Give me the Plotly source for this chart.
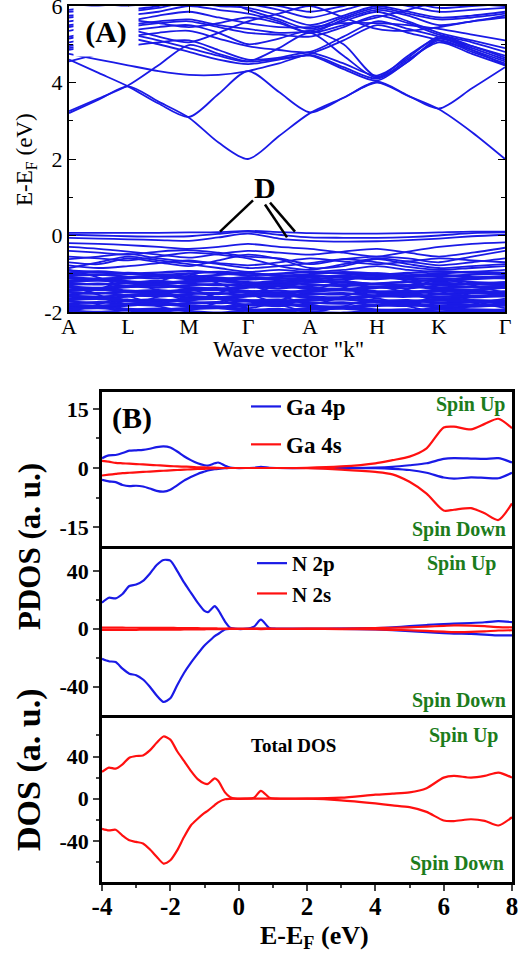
import plotly.graph_objects as go

W, H = 518, 960
FONT = "Liberation Serif"
BLUE = "#1a1ae6"
RED = "#ff1010"
GREEN = "#1c7c1c"

# ---------------- Panel A: band structure ----------------
k_nodes = [0, 29.5, 59, 89.5, 120, 149.5, 179, 210, 241, 274.5, 308, 339, 370, 403, 436]
high_sym_k = [0, 59, 120, 179, 241, 308, 370, 436]
high_sym_labels = ["A", "L", "M", "Γ", "A", "H", "K", "Γ"]
energy_ticks = [-2, 0, 2, 4, 6]
energy_ticktext = ["-2", "0", "2", "4", "6"]

# conduction bands (eV) at k_nodes
c1 = [3.2, 3.55, 3.9, 3.5, 3.08, 2.43, 2.0, 2.6, 3.2, 3.6, 4.0, 3.65, 3.3, 2.7, 2.0]
c2 = [4.6, 4.25, 3.9, 3.45, 3.1, 3.7, 4.3, 3.75, 3.22, 3.6, 4.02, 3.66, 3.32, 3.85, 4.4]
c3 = [3.25, 3.58, 3.92, 4.45, 4.98, 4.75, 4.55, 4.62, 4.7, 4.35, 4.05, 4.55, 5.1, 4.8, 4.5]
c4 = [4.75, 4.6, 4.45, 4.3, 4.2, 4.2, 4.3, 4.5, 4.72, 4.4, 4.1, 4.55, 5.15, 4.9, 4.6]
c5 = [4.55, 4.75, 4.95, 5.05, 5.1, 4.85, 4.6, 4.65, 4.78, 4.5, 4.18, 4.65, 5.2, 4.95, 4.65]
u1 = [4.95, 5.1, 5.25, 5.1, 4.9, 4.7, 4.55, 4.9, 5.3, 4.7, 4.12, 4.6, 5.05, 4.75, 4.45]
u2 = [5.05, 5.2, 5.35, 5.45, 5.5, 5.3, 5.0, 5.15, 5.35, 5.0, 4.15, 4.7, 5.15, 4.85, 4.55]
u3 = [5.2, 5.35, 5.5, 5.6, 5.65, 5.5, 5.4, 5.3, 5.35, 5.6, 5.85, 5.6, 5.3, 5.1, 4.9]
u4 = [5.35, 5.5, 5.6, 5.75, 5.85, 5.7, 5.55, 5.45, 5.45, 5.55, 5.55, 5.5, 5.4, 5.25, 5.1]
u5 = [5.5, 5.6, 5.75, 5.85, 6.0, 5.9, 5.8, 5.6, 5.3, 5.65, 5.9, 5.75, 5.5, 5.6, 5.75]
u6 = [5.6, 5.7, 5.85, 5.95, 6.1, 6.0, 5.95, 5.75, 5.5, 5.75, 6.0, 5.85, 5.7, 5.75, 5.85]
u7 = [5.75, 5.8, 5.9, 6.0, 6.2, 6.1, 6.05, 5.9, 5.7, 5.9, 6.1, 6.0, 5.85, 5.9, 5.95]
u8 = [5.85, 5.9, 6.0, 6.1, 6.3, 6.2, 6.1, 6.0, 5.85, 6.0, 6.2, 6.1, 5.95, 6.0, 6.05]
u9 = [4.85, 5.0, 5.15, 5.0, 4.8, 4.6, 4.48, 4.6, 4.75, 5.1, 5.5, 5.3, 5.1, 4.85, 4.45]
u10 = [5.9, 6.0, 6.1, 6.2, 6.3, 6.2, 5.9, 5.65, 5.4, 5.7, 5.95, 5.8, 5.65, 5.7, 5.8]
u11 = [5.45, 5.55, 5.4, 5.2, 5.05, 5.3, 5.6, 5.8, 6.0, 5.7, 5.4, 5.35, 5.45, 5.6, 5.7]
u12 = [5.7, 5.75, 5.65, 5.55, 5.45, 5.55, 5.7, 5.55, 5.3, 5.5, 5.7, 5.9, 6.1, 6.05, 6.0]
u13 = [5.15, 5.3, 5.45, 5.55, 5.6, 5.45, 5.3, 5.25, 5.2, 5.45, 5.75, 5.55, 5.25, 5.05, 4.8]
u14 = [4.9, 5.05, 5.2, 5.3, 5.35, 5.15, 4.95, 4.85, 4.8, 5.2, 5.6, 5.4, 5.2, 4.95, 4.7]

# valence bands near the Fermi level (defect bands "D")
v1 = [0.07, 0.07, 0.07, 0.07, 0.08, 0.09, 0.12, 0.09, 0.06, 0.05, 0.05, 0.06, 0.08, 0.1, 0.1]
v2 = [0.02, 0.0, -0.02, -0.03, -0.02, 0.04, 0.1, 0.02, -0.05, -0.06, -0.06, -0.04, 0.0, 0.06, 0.08]
v3 = [-0.06, -0.08, -0.1, -0.12, -0.14, -0.05, 0.05, -0.08, -0.14, -0.16, -0.15, -0.12, -0.08, -0.02, 0.02]
v4 = [-0.2, -0.22, -0.25, -0.3, -0.35, -0.3, -0.22, -0.3, -0.35, -0.45, -0.55, -0.42, -0.3, -0.22, -0.18]
v5 = [-0.4, -0.45, -0.5, -0.42, -0.38, -0.45, -0.55, -0.6, -0.75, -0.62, -0.55, -0.6, -0.7, -0.55, -0.4]
v6 = [-0.55, -0.6, -0.65, -0.55, -0.45, -0.5, -0.6, -0.8, -0.9, -0.75, -0.6, -0.68, -0.78, -0.7, -0.6]
v7 = [-0.7, -0.75, -0.6, -0.7, -0.8, -0.65, -0.5, -0.62, -0.85, -0.8, -0.62, -0.75, -0.85, -0.8, -0.75]
v8 = [-0.85, -0.7, -0.55, -0.65, -0.75, -0.85, -0.95, -0.9, -0.95, -0.9, -0.8, -0.9, -0.95, -0.95, -0.9]
v9 = [-0.3, -0.35, -0.42, -0.5, -0.58, -0.48, -0.4, -0.45, -0.5, -0.42, -0.35, -0.45, -0.55, -0.45, -0.32]
v10 = [-0.62, -0.55, -0.48, -0.6, -0.68, -0.72, -0.78, -0.7, -0.6, -0.68, -0.75, -0.68, -0.6, -0.65, -0.7]
v11 = [-0.78, -0.85, -0.8, -0.72, -0.65, -0.75, -0.85, -0.8, -0.72, -0.62, -0.7, -0.82, -0.9, -0.85, -0.8]
# dense valence manifold
d01 = [-0.92, -0.96, -1.00, -0.97, -0.93, -0.98, -1.04, -1.00, -0.95, -0.99, -1.03, -0.98, -0.94, -0.97, -1.01]
d02 = [-1.00, -1.03, -0.98, -1.04, -1.08, -1.03, -0.98, -1.05, -1.09, -1.04, -0.99, -1.05, -1.08, -1.02, -0.99]
d03 = [-1.06, -1.02, -1.08, -1.12, -1.06, -1.10, -1.15, -1.09, -1.04, -1.10, -1.14, -1.08, -1.03, -1.09, -1.12]
d04 = [-1.12, -1.16, -1.12, -1.07, -1.14, -1.18, -1.12, -1.17, -1.20, -1.14, -1.09, -1.15, -1.19, -1.14, -1.10]
d05 = [-1.18, -1.14, -1.20, -1.24, -1.19, -1.15, -1.22, -1.26, -1.18, -1.23, -1.26, -1.21, -1.16, -1.22, -1.25]
d06 = [-1.24, -1.28, -1.24, -1.19, -1.26, -1.30, -1.25, -1.21, -1.28, -1.32, -1.26, -1.22, -1.29, -1.27, -1.22]
d07 = [-1.30, -1.26, -1.32, -1.36, -1.30, -1.27, -1.34, -1.38, -1.32, -1.28, -1.35, -1.38, -1.31, -1.34, -1.37]
d08 = [-1.36, -1.40, -1.35, -1.31, -1.38, -1.42, -1.36, -1.32, -1.40, -1.43, -1.37, -1.33, -1.40, -1.42, -1.36]
d09 = [-1.42, -1.38, -1.44, -1.47, -1.41, -1.38, -1.45, -1.49, -1.43, -1.39, -1.46, -1.48, -1.42, -1.45, -1.48]
d10 = [-1.48, -1.52, -1.47, -1.43, -1.50, -1.53, -1.47, -1.44, -1.51, -1.54, -1.48, -1.45, -1.52, -1.50, -1.46]
d11 = [-1.54, -1.50, -1.56, -1.59, -1.53, -1.50, -1.57, -1.60, -1.54, -1.51, -1.58, -1.60, -1.54, -1.57, -1.59]
d12 = [-1.60, -1.64, -1.59, -1.55, -1.62, -1.65, -1.59, -1.56, -1.63, -1.66, -1.60, -1.57, -1.64, -1.62, -1.58]
d13 = [-1.66, -1.62, -1.68, -1.71, -1.65, -1.62, -1.69, -1.72, -1.66, -1.63, -1.70, -1.72, -1.66, -1.69, -1.71]
d14 = [-1.72, -1.76, -1.71, -1.67, -1.74, -1.77, -1.71, -1.68, -1.75, -1.78, -1.72, -1.69, -1.76, -1.74, -1.70]
d15 = [-1.78, -1.74, -1.80, -1.83, -1.77, -1.74, -1.81, -1.84, -1.78, -1.75, -1.82, -1.84, -1.78, -1.81, -1.83]
d16 = [-1.84, -1.88, -1.83, -1.79, -1.86, -1.89, -1.83, -1.80, -1.87, -1.90, -1.84, -1.81, -1.88, -1.86, -1.82]
d17 = [-1.90, -1.86, -1.92, -1.95, -1.89, -1.86, -1.93, -1.96, -1.90, -1.87, -1.94, -1.96, -1.90, -1.93, -1.95]
d18 = [-1.96, -2.00, -1.95, -1.91, -1.98, -2.02, -1.96, -1.92, -1.99, -2.02, -1.96, -1.93, -2.00, -1.98, -1.94]
e01 = [-0.98, -0.94, -0.99, -1.03, -0.99, -0.95, -0.99, -1.05, -1.01, -0.96, -1.0, -1.04, -0.99, -0.95, -0.98]
e02 = [-1.09, -1.13, -1.09, -1.04, -1.1, -1.14, -1.09, -1.12, -1.15, -1.08, -1.05, -1.11, -1.14, -1.1, -1.06]
e03 = [-1.21, -1.18, -1.23, -1.27, -1.22, -1.19, -1.27, -1.3, -1.23, -1.2, -1.28, -1.3, -1.24, -1.27, -1.3]
e04 = [-1.33, -1.37, -1.31, -1.28, -1.35, -1.39, -1.33, -1.29, -1.36, -1.4, -1.34, -1.3, -1.37, -1.35, -1.31]
e05 = [-1.45, -1.42, -1.48, -1.51, -1.45, -1.42, -1.5, -1.53, -1.47, -1.43, -1.5, -1.52, -1.46, -1.49, -1.52]
e06 = [-1.57, -1.6, -1.55, -1.52, -1.58, -1.61, -1.55, -1.52, -1.59, -1.62, -1.56, -1.53, -1.6, -1.58, -1.54]
e07 = [-1.69, -1.66, -1.72, -1.75, -1.69, -1.66, -1.73, -1.76, -1.7, -1.67, -1.74, -1.76, -1.7, -1.73, -1.75]
e08 = [-1.81, -1.84, -1.79, -1.76, -1.82, -1.86, -1.8, -1.77, -1.84, -1.86, -1.8, -1.77, -1.84, -1.82, -1.78]
e09 = [-1.93, -1.9, -1.96, -1.99, -1.93, -1.9, -1.97, -2.0, -1.94, -1.91, -1.98, -2.0, -1.94, -1.97, -1.99]
x1 = [-0.9, -1.1, -1.35, -1.2, -1.0, -1.25, -1.5, -1.3, -1.1, -1.35, -1.6, -1.4, -1.15, -1.3, -1.5]
x2 = [-1.6, -1.4, -1.2, -1.45, -1.7, -1.5, -1.3, -1.55, -1.8, -1.6, -1.35, -1.5, -1.7, -1.5, -1.3]
x3 = [-1.3, -1.55, -1.8, -1.6, -1.4, -1.65, -1.9, -1.7, -1.45, -1.2, -1.0, -1.2, -1.45, -1.7, -1.9]
x4 = [-2.0, -1.8, -1.6, -1.85, -1.95, -1.75, -1.55, -1.8, -2.0, -1.85, -1.65, -1.85, -2.0, -1.8, -1.65]

sparse_bands = [c1, c2, c3, c4, c5, u1, u2, u3, u4, u5, u6, u7, u8, u9, u10, u11, u12, u13, u14,
                v1, v2, v3, v4, v5, v6, v7, v8, v9, v10, v11, x1, x2, x3, x4]
dense_bands = [d01, d02, d03, d04, d05, d06, d07, d08, d09, d10, d11, d12, d13, d14, d15, d16, d17, d18,
               e01, e02, e03, e04, e05, e06, e07, e08, e09]

# ---------------- Panel B: DOS ----------------
energy = [-4.0, -3.8, -3.6, -3.4, -3.2, -3.0, -2.8, -2.6, -2.4, -2.2, -2.0, -1.8, -1.6, -1.4,
          -1.2, -1.0, -0.9, -0.7, -0.6, -0.4, -0.25, -0.1, 0.2, 0.45, 0.65, 0.9, 1.1, 2.0,
          3.0, 4.0, 4.5, 5.0, 5.5, 6.0, 6.3, 6.8, 7.2, 7.6, 8.0]

ga4p_up = [2.5, 3.2, 3.3, 3.8, 4.4, 4.5, 4.6, 4.9, 5.3, 5.5, 5.2, 4.2, 3.0, 2.0,
           1.2, 0.7, 0.6, 1.2, 1.4, 0.6, 0.1, 0.0, 0.0, 0.05, 0.3, 0.05, 0.0, 0.0,
           0.0, 0.1, 0.3, 0.7, 1.2, 2.3, 2.5, 2.4, 2.3, 2.5, 1.4]
ga4p_dn = [-3.0, -3.4, -3.6, -4.3, -4.6, -4.5, -4.7, -5.2, -5.8, -6.0, -5.5, -4.4, -3.2, -2.3,
           -1.5, -0.9, -0.6, -0.3, -0.2, -0.05, 0.0, 0.0, 0.0, 0.0, 0.0, 0.0, 0.0, 0.0,
           0.0, -0.05, -0.2, -0.5, -1.2, -2.4, -2.7, -2.4, -2.5, -2.6, -1.2]
ga4s_up = [1.8, 1.6, 1.3, 1.2, 1.1, 1.0, 0.9, 0.8, 0.7, 0.6, 0.5, 0.4, 0.35, 0.3,
           0.2, 0.15, 0.1, 0.1, 0.05, 0.0, 0.0, 0.0, 0.0, 0.0, 0.0, 0.0, 0.0, 0.05,
           0.4, 1.2, 2.0, 2.9, 5.0, 10.3, 10.5, 9.8, 11.2, 12.5, 10.1]
ga4s_dn = [-1.9, -1.7, -1.5, -1.3, -1.2, -1.1, -1.0, -0.9, -0.8, -0.7, -0.6, -0.5, -0.4, -0.35,
           -0.25, -0.2, -0.15, -0.1, -0.05, 0.0, 0.0, 0.0, 0.0, 0.0, 0.0, 0.0, 0.0, -0.05,
           -0.4, -1.0, -1.6, -3.5, -6.5, -10.8, -10.6, -10.2, -11.5, -13.2, -9.0]

n2p_up = [18.0, 21.4, 21.0, 24.0, 29.5, 30.5, 33.0, 38.0, 44.0, 47.5, 47.0, 40.0, 32.0, 25.0,
          18.0, 12.3, 11.5, 15.7, 13.0, 5.0, 0.8, 0.0, 0.0, 1.5, 6.3, 0.5, 0.0, 0.0,
          0.1, 0.5, 1.0, 1.8, 2.6, 3.3, 3.5, 4.0, 4.5, 5.3, 4.6]
n2p_dn = [-20.7, -22.4, -23.0, -27.5, -31.0, -32.0, -35.0, -40.0, -46.0, -50.5, -48.0, -39.0, -30.5, -23.5,
          -17.3, -11.5, -9.3, -5.0, -3.6, -0.5, -0.1, 0.0, 0.0, 0.0, 0.0, 0.0, 0.0, 0.0,
          -0.1, -0.5, -1.0, -1.6, -2.4, -3.0, -3.3, -3.5, -4.0, -4.6, -4.5]
n2s_up = [0.8, 0.8, 0.75, 0.75, 0.7, 0.7, 0.65, 0.65, 0.6, 0.6, 0.6, 0.55, 0.5, 0.45,
          0.4, 0.35, 0.3, 0.25, 0.2, 0.15, 0.1, 0.0, 0.0, 0.05, 0.2, 0.05, 0.0, 0.05,
          0.2, 0.5, 0.7, 1.0, 1.5, 2.0, 2.3, 2.2, 1.8, 1.2, 1.0]
n2s_dn = [-0.8, -0.8, -0.75, -0.75, -0.7, -0.7, -0.65, -0.65, -0.6, -0.6, -0.6, -0.55, -0.5, -0.45,
          -0.4, -0.35, -0.3, -0.25, -0.2, -0.15, -0.1, 0.0, 0.0, -0.05, -0.2, -0.05, 0.0, -0.05,
          -0.2, -0.5, -0.7, -1.0, -1.5, -2.0, -2.3, -2.2, -1.8, -1.2, -1.0]

tdos_up = [25.4, 29.5, 28.5, 32.6, 38.9, 40.5, 41.0, 45.8, 53.0, 59.0, 56.0, 45.0, 35.8, 26.4,
           18.5, 14.4, 14.0, 19.2, 17.0, 6.0, 1.5, 0.1, 0.0, 0.8, 7.5, 1.0, 0.1, 0.1,
           1.0, 3.8, 4.8, 6.0, 10.0, 20.0, 21.6, 20.0, 21.6, 24.8, 20.0]
tdos_dn = [-28.6, -30.1, -29.5, -35.0, -39.5, -41.0, -42.5, -48.0, -55.0, -61.5, -58.4, -49.0, -36.4, -25.4,
           -19.0, -13.5, -11.3, -6.0, -3.5, -0.5, -0.1, 0.0, 0.0, 0.0, 0.0, 0.0, 0.0, 0.0,
           -1.5, -4.5, -6.3, -8.0, -12.5, -20.7, -21.2, -19.5, -21.0, -25.4, -17.6]

dos_ticks = [-4, -2, 0, 2, 4, 6, 8]
dos_ticktext = ["-4", "-2", "0", "2", "4", "6", "8"]
ga_ticks = [-15, 0, 15]
ga_ticktext = ["-15", "0", "15"]
n_ticks = [-40, 0, 40]
n_ticktext = ["-40", "0", "40"]


def px(x):
    return x / W


def py(y):
    return 1 - y / H


fig = go.Figure()

for b in sparse_bands:
    fig.add_trace(go.Scatter(x=k_nodes, y=b, mode="lines", xaxis="x", yaxis="y",
                             line=dict(color=BLUE, width=1.8, shape="spline", smoothing=0.8),
                             showlegend=False, hoverinfo="skip"))
for b in dense_bands:
    fig.add_trace(go.Scatter(x=k_nodes, y=b, mode="lines", xaxis="x", yaxis="y",
                             line=dict(color=BLUE, width=2.3, shape="spline", smoothing=0.8),
                             showlegend=False, hoverinfo="skip"))

LW = 2.2
dos_sets = [
    ("x2", "y2", "legend", "Ga 4p", BLUE, ga4p_up, ga4p_dn),
    ("x2", "y2", "legend", "Ga 4s", RED, ga4s_up, ga4s_dn),
    ("x3", "y3", "legend2", "N 2p", BLUE, n2p_up, n2p_dn),
    ("x3", "y3", "legend2", "N 2s", RED, n2s_up, n2s_dn),
    ("x4", "y4", None, "Total DOS", RED, tdos_up, tdos_dn),
]
for xa, ya, leg, name, col, up, dn in dos_sets:
    for i, vals in enumerate((up, dn)):
        kw = dict(x=energy, y=vals, mode="lines", xaxis=xa, yaxis=ya, name=name,
                  line=dict(color=col, width=LW, shape="spline", smoothing=0.7),
                  legendgroup=name, hoverinfo="skip",
                  showlegend=(leg is not None and i == 0))
        if leg is not None:
            kw["legend"] = leg
        fig.add_trace(go.Scatter(**kw))

axA_common = dict(showline=True, linewidth=2, linecolor="black", mirror="allticks",
                  ticks="inside", ticklen=7, tickwidth=1.3, tickcolor="black",
                  showgrid=False, zeroline=False, automargin=False, ticklabeloverflow="allow",
                  tickfont=dict(family=FONT, size=22, color="black"))
bold_tick = dict(family=FONT, size=22, color="black", weight="bold")
axB_common = dict(showline=True, linewidth=2.5, linecolor="black", mirror=True,
                  showgrid=False, zeroline=False, automargin=False, ticklabeloverflow="allow")

LWB = 2.5  # border width, used to make neighbouring frames overlap

fig.update_layout(
    width=W, height=H, margin=dict(l=0, r=0, t=0, b=0, autoexpand=False),
    paper_bgcolor="white", plot_bgcolor="white",
    xaxis=dict(domain=[px(69), px(505)], range=[0, 436], anchor="y",
               tickvals=high_sym_k, ticktext=high_sym_labels, ticklabelstandoff=-6,
               **axA_common),
    yaxis=dict(domain=[py(312), py(6)], range=[-2.0001, 6.0001], anchor="x",
               tickvals=energy_ticks, ticktext=energy_ticktext,
               minor=dict(dtick=1, ticks="inside", ticklen=4, tickcolor="black"),
               **axA_common),
    xaxis2=dict(domain=[px(102), px(512)], range=[-4, 8], anchor="y2", matches="x4",
                showticklabels=False, ticks="", **axB_common),
    yaxis2=dict(domain=[py(546), py(392)], range=[-19.8, 19.3], anchor="x2",
                tickvals=ga_ticks, ticktext=ga_ticktext, ticks="outside", ticklen=6, tickwidth=1.5,
                minor=dict(tickvals=[-7.5, 7.5], ticks="outside", ticklen=3),
                tickfont=bold_tick, **axB_common),
    xaxis3=dict(domain=[px(102), px(512)], range=[-4, 8], anchor="y3", matches="x4",
                showticklabels=False, ticks="", **axB_common),
    yaxis3=dict(domain=[py(715), py(546 + LWB)], range=[-59.5, 55.4], anchor="x3",
                tickvals=n_ticks, ticktext=n_ticktext, ticks="outside", ticklen=6, tickwidth=1.5,
                minor=dict(tickvals=[-20, 20], ticks="outside", ticklen=3),
                tickfont=bold_tick, **axB_common),
    xaxis4=dict(domain=[px(102), px(512)], range=[-4, 8], anchor="y4",
                tickvals=dos_ticks, ticktext=dos_ticktext, ticks="outside", ticklen=6, tickwidth=1.5,
                minor=dict(dtick=1, ticks="outside", ticklen=3), ticklabelstandoff=-6,
                tickfont=dict(family=FONT, size=25, color="black", weight="bold"),
                **axB_common),
    yaxis4=dict(domain=[py(882), py(715 + LWB)], range=[-79, 77], anchor="x4",
                tickvals=n_ticks, ticktext=n_ticktext, ticks="outside", ticklen=6, tickwidth=1.5,
                minor=dict(tickvals=[-60, -20, 20, 60], ticks="outside", ticklen=3),
                tickfont=bold_tick, **axB_common),
    legend=dict(x=px(246), y=py(385), xanchor="left", yanchor="top",
                bgcolor="rgba(0,0,0,0)", traceorder="grouped", tracegroupgap=5,
                itemwidth=30,
                font=dict(family=FONT, size=23, color="black", weight="bold")),
    legend2=dict(x=px(252), y=py(543), xanchor="left", yanchor="top",
                 bgcolor="rgba(0,0,0,0)", traceorder="grouped", tracegroupgap=0,
                 itemwidth=30,
                 font=dict(family=FONT, size=21, color="black", weight="bold")),
)

# "D" pointer lines (drawn in band-structure data coordinates)
for (xa0, ya0, xa1, ya1) in [(184, 0.92, 151, 0.1), (196, 0.81, 218, -0.05), (201, 0.86, 226, 0.1)]:
    fig.add_shape(type="line", xref="x", yref="y", x0=xa0, y0=ya0, x1=xa1, y1=ya1,
                  line=dict(color="black", width=2.5))

ann = []


def add_text(text, x, y, size, color="black", bold=False, xanchor="center", angle=0,
             bg=None, w=None, h=None):
    d = dict(text=text, xref="paper", yref="paper", x=px(x), y=py(y), showarrow=False,
             xanchor=xanchor, yanchor="middle", textangle=angle,
             font=dict(family=FONT, size=size, color=color, weight="bold" if bold else "normal"))
    if bg:
        d.update(bgcolor=bg)
    if w:
        d.update(width=w, height=h)
    ann.append(d)


add_text("(A)", 106, 32, 30, bold=True, bg="white", w=62, h=47)
add_text("D", 265, 188, 30, bold=True)
add_text("E-E<sub>F</sub> (eV)", 26, 160, 23, angle=-90)
add_text("Wave vector \"k\"", 288, 349, 23)

add_text("(B)", 132, 418, 30, bold=True)
add_text("Spin Up", 508, 404, 20, color=GREEN, bold=True, xanchor="right")
add_text("Spin Down", 508, 529, 20, color=GREEN, bold=True, xanchor="right")
add_text("Spin Up", 499, 563, 20, color=GREEN, bold=True, xanchor="right")
add_text("Spin Down", 508, 700, 20, color=GREEN, bold=True, xanchor="right")
add_text("Spin Up", 501, 735, 20, color=GREEN, bold=True, xanchor="right")
add_text("Spin Down", 506, 863, 20, color=GREEN, bold=True, xanchor="right")
add_text("Total DOS", 293, 745, 19, bold=True)
add_text("PDOS (a. u.)", 29, 547, 31, bold=True, angle=-90)
add_text("DOS (a. u.)", 29, 770, 34, bold=True, angle=-90)
add_text("E-E<sub>F</sub> (eV)", 314, 937, 26, bold=True)

fig.update_layout(annotations=ann)

fig.write_html("out.html", config={"displayModeBar": False},
               post_script="document.body.style.margin='0px';document.body.style.padding='0px';")
